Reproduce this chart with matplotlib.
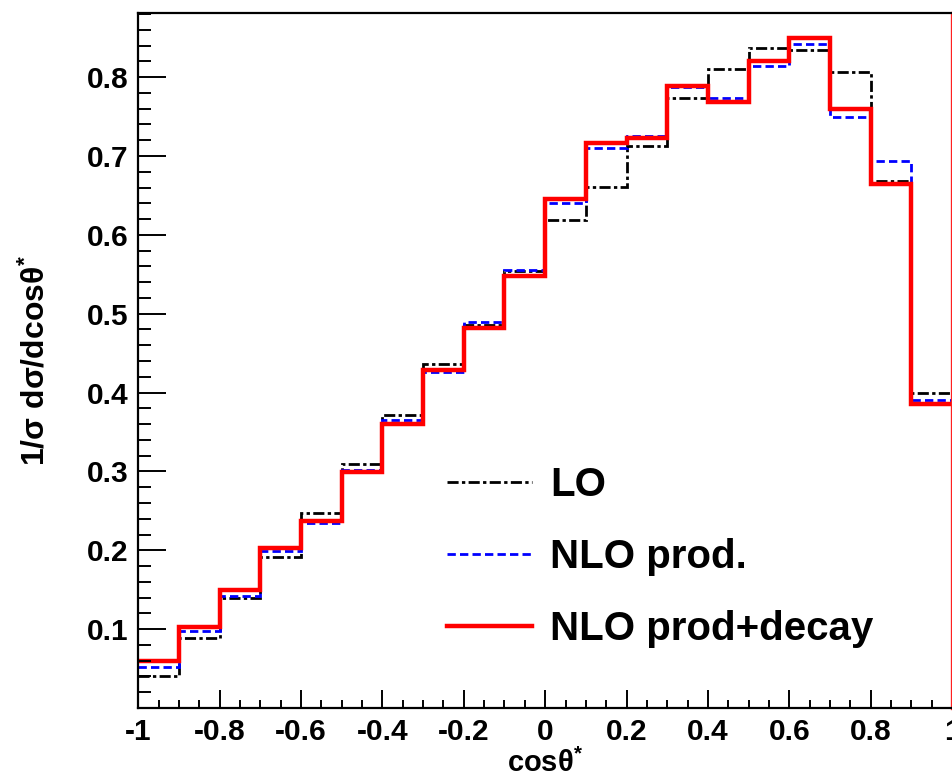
import numpy as np
import matplotlib
matplotlib.use('Agg')
import matplotlib.pyplot as plt
from matplotlib.ticker import MultipleLocator

# 20 bins of cos(theta*) between -1 and 1
edges = np.linspace(-1, 1, 21)

lo = [0.040, 0.089, 0.140, 0.192, 0.247, 0.310, 0.372, 0.436, 0.486, 0.554,
      0.619, 0.661, 0.713, 0.773, 0.810, 0.837, 0.835, 0.807, 0.668, 0.400]
nlo_prod = [0.052, 0.098, 0.142, 0.199, 0.235, 0.302, 0.365, 0.426, 0.489, 0.555,
            0.640, 0.710, 0.726, 0.788, 0.773, 0.814, 0.842, 0.749, 0.694, 0.391]
nlo_prod_decay = [0.059, 0.103, 0.150, 0.203, 0.237, 0.299, 0.360, 0.429, 0.482, 0.548,
                  0.646, 0.716, 0.723, 0.789, 0.768, 0.820, 0.850, 0.760, 0.665, 0.385]
etiquetas = ['LO', 'NLO prod.', 'NLO prod+decay']

plt.rcParams['font.family'] = ['Liberation Sans', 'DejaVu Sans']
plt.rcParams['font.weight'] = 'bold'
plt.rcParams['axes.labelweight'] = 'bold'
plt.rcParams['mathtext.fontset'] = 'custom'
plt.rcParams['mathtext.rm'] = 'Liberation Sans:bold'
plt.rcParams['mathtext.it'] = 'Liberation Sans:bold'
plt.rcParams['mathtext.bf'] = 'Liberation Sans:bold'
plt.rcParams['mathtext.default'] = 'rm'

fig = plt.figure(figsize=(9.52, 7.76), dpi=100)
ax = fig.add_axes([0.1453, 0.0876, 0.8547, 0.8953])

# histogramas escalonados
ax.stairs(lo, edges, baseline=None, color='black', lw=2.0,
          linestyle=(0, (4, 1.2, 1.2, 1.2)), label=etiquetas[0])
ax.stairs(nlo_prod, edges, baseline=None, color='#0000ff', lw=2.0,
          linestyle=(0, (3.0, 1.5)), label=etiquetas[1])
ax.stairs(nlo_prod_decay, edges, baseline=None, color='#ff0000', lw=3.2,
          label=etiquetas[2])

ax.set_xlim(-1, 1)
ax.set_ylim(0, 0.881)

ax.xaxis.set_major_locator(MultipleLocator(0.2))
ax.xaxis.set_minor_locator(MultipleLocator(0.05))
ax.yaxis.set_major_locator(MultipleLocator(0.1))
ax.yaxis.set_minor_locator(MultipleLocator(0.02))
ax.set_yticks([0.1, 0.2, 0.3, 0.4, 0.5, 0.6, 0.7, 0.8])
ax.set_xticks(np.round(np.arange(-1, 1.01, 0.2), 1))
ax.set_xticklabels(['-1', '-0.8', '-0.6', '-0.4', '-0.2', '0', '0.2', '0.4', '0.6', '0.8', '1'])

ax.tick_params(axis='both', which='both', direction='in', top=False, right=False,
               width=1.4, labelsize=21.5)
ax.tick_params(axis='y', which='major', length=20, pad=7)
ax.tick_params(axis='y', which='minor', length=9.5)
ax.tick_params(axis='x', which='major', length=13, pad=7)
ax.tick_params(axis='x', which='minor', length=6)

for lado in ['left', 'bottom', 'top']:
    ax.spines[lado].set_linewidth(1.6)
ax.spines['right'].set_color('#ff2020')
ax.spines['right'].set_linewidth(2.4)

ax.set_xlabel(r'cosθ$^{*}$', fontsize=21)
ax.set_ylabel(r'1/σ dσ/dcosθ$^{*}$', fontsize=23)
ax.xaxis.set_label_coords(0.5, -0.058)
ax.yaxis.set_label_coords(-0.107, 0.5)

ax.legend(loc='center left', bbox_to_anchor=(0.3795, 0.2174), frameon=False,
          fontsize=29, handlelength=2.1, handletextpad=0.45, labelspacing=0.85,
          borderpad=0, borderaxespad=0)

fig.savefig('out.png', dpi=100)
